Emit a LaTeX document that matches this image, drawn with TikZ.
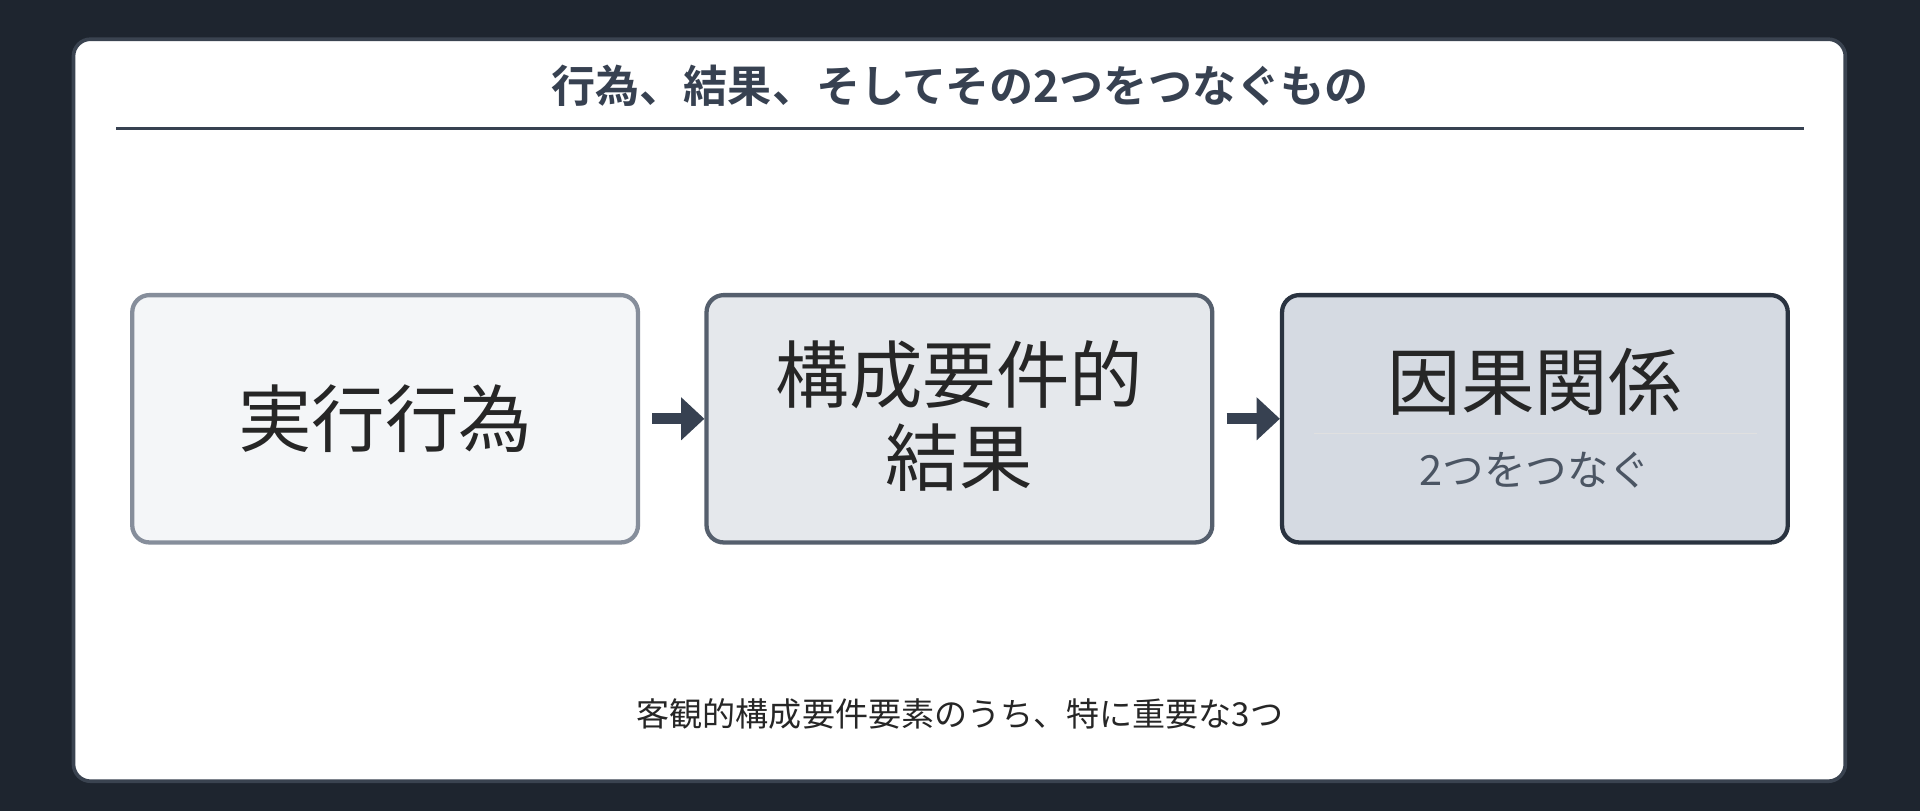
\documentclass[tikz,border=0pt]{standalone}
\usepackage{fontspec}
\setmainfont{Noto Sans CJK JP}
\newfontfamily\jpbold{Noto Sans CJK JP Bold}
\usetikzlibrary{positioning,arrows.meta}
\definecolor{bgdark}{HTML}{1E252F}
\definecolor{edgecard}{HTML}{3A4350}
\definecolor{inkdark}{HTML}{374151}
\definecolor{fillone}{HTML}{F4F6F8}
\definecolor{edgeone}{HTML}{868E9B}
\definecolor{filltwo}{HTML}{E5E8EC}
\definecolor{edgetwo}{HTML}{555F6D}
\definecolor{fillthree}{HTML}{D5DAE2}
\definecolor{edgethree}{HTML}{2A3340}
\definecolor{subgray}{HTML}{4B5563}
\tikzset{
  stagebox/.style={draw, line width=3.5pt, rounded corners=14pt, minimum width=413pt,
    minimum height=202pt, inner sep=0pt, align=center, font=\fontsize{60}{70}\selectfont, text=black!85},
  flow/.style={draw=inkdark, line width=9pt, -{Triangle[length=19pt,width=34pt]}}
}
\begin{document}
\begin{tikzpicture}[x=1pt,y=-1pt]
    \fill [bgdark] (0,0) rectangle (1568,662);
    \useasboundingbox (0,0) rectangle (1568,662);
    \draw [edgecard, fill=white, line width=3pt, rounded corners=14pt] (60,32) rectangle (1507,638);
    \node [text=inkdark, font=\jpbold\fontsize{36}{40}\selectfont] (title) at (784,70) {行為、結果、そしてその2つをつなぐもの};
    \draw [inkdark, line width=2pt] (95,105) -- (1473,105);
    \node [stagebox, fill=fillone, draw=edgeone] (act) at (314.5,342) {実行行為};
    \node [stagebox, fill=filltwo, draw=edgetwo] (res) at (783.5,342) {};
    \node [stagebox, fill=fillthree, draw=edgethree] (cause) at (1253.5,342) {};
    \node [font=\fontsize{60}{70}\selectfont, text=black!85, align=center] (restext) at (783.5,340) {構成要件的\\[-2pt]結果};
    \node [font=\fontsize{60}{70}\selectfont, text=black!85] (causetext) at (1253.5,312) {因果関係};
    \draw [black!12, line width=1.5pt] (1073,354) -- (1435,354);
    \node [font=\fontsize{34}{40}\selectfont, text=subgray] (causesub) at (1253.5,384) {2つをつなぐ};
    \draw [flow] (act.east) ++(10pt,0) coordinate (a1) (a1) -- (res.west);
    \draw [flow] (res.east) ++(10pt,0) coordinate (a2) (a2) -- (cause.west);
    \node [font=\fontsize{27}{32}\selectfont, text=black!85] (note) at (784,583) {客観的構成要件要素のうち、特に重要な3つ};
\end{tikzpicture}
\end{document}
